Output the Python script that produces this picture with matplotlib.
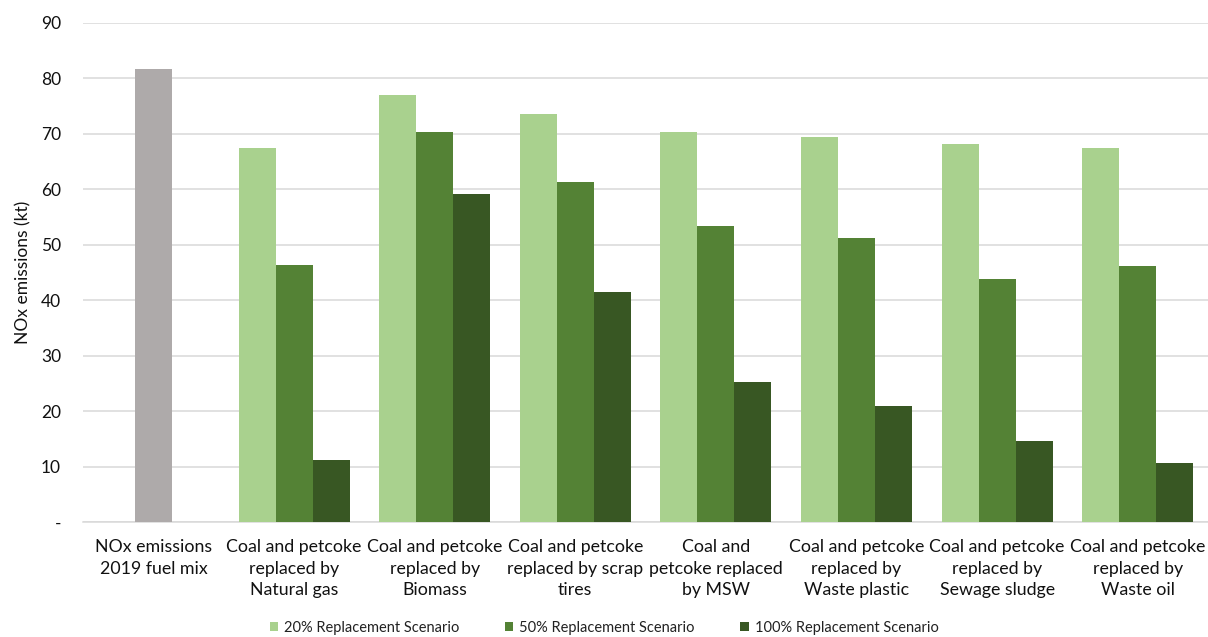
import matplotlib
matplotlib.use("Agg")
import matplotlib.pyplot as plt
import numpy as np

plt.rcParams['font.family'] = ['Lato', 'DejaVu Sans']

# NOx emissions (kt) per fuel scenario
categories = ['NOx emissions\n2019 fuel mix',
              'Coal and petcoke\nreplaced by\nNatural gas',
              'Coal and petcoke\nreplaced by\nBiomass',
              'Coal and petcoke\nreplaced by scrap\ntires',
              'Coal and\npetcoke replaced\nby MSW',
              'Coal and petcoke\nreplaced by\nWaste plastic',
              'Coal and petcoke\nreplaced by\nSewage sludge',
              'Coal and petcoke\nreplaced by\nWaste oil']
baseline_2019 = 81.7
rep_20 = [67.4, 77.1, 73.5, 70.3, 69.4, 68.1, 67.4]
rep_50 = [46.4, 70.3, 61.4, 53.3, 51.2, 43.8, 46.1]
rep_100 = [11.2, 59.2, 41.4, 25.2, 20.9, 14.6, 10.6]
series_names = ['20% Replacement Scenario', '50% Replacement Scenario',
                '100% Replacement Scenario']
colors = ['#A9D18E', '#548235', '#385723']
ytick_vals = [0, 10, 20, 30, 40, 50, 60, 70, 80, 90]

fig = plt.figure(figsize=(12.08, 6.37), dpi=100)
ax = fig.add_axes([0.0689, 0.1805, 0.9311, 0.7834])

w = 0.263
x = np.arange(1, len(categories))
ax.bar(0, baseline_2019, width=w, color='#AEAAAA', zorder=3)
for i, (vals, name, c) in enumerate(zip([rep_20, rep_50, rep_100], series_names, colors)):
    ax.bar(x + (i - 1) * w, vals, width=w, color=c, label=name, zorder=3)

ax.set_xlim(-0.5, len(categories) - 0.5)
ax.set_ylim(0, 90)
ax.set_yticks(ytick_vals)
ax.set_yticklabels(['-' if v == 0 else str(v) for v in ytick_vals])
ax.set_xticks(np.arange(len(categories)))
ax.set_xticklabels(categories, fontsize=12.8, linespacing=1.45)
ax.tick_params(axis='x', length=0, pad=12, colors='#111111')
ax.tick_params(axis='y', length=0, pad=16, labelsize=12.5, colors='#111111')
ax.grid(axis='y', color='#D9D9D9', linewidth=1.1, zorder=0)
for s in ['top', 'right', 'left']:
    ax.spines[s].set_visible(False)
ax.spines['bottom'].set_color('#D9D9D9')
ax.spines['bottom'].set_linewidth(1.1)
ax.set_ylabel('NOx emissions (kt)', fontsize=12.5, color='#111111', labelpad=7)

fig.legend(loc='lower center', bbox_to_anchor=(0.5, -0.017), ncol=3, frameon=False,
           fontsize=10.5, handlelength=0.6, handleheight=0.6, handletextpad=0.4,
           columnspacing=3.1, labelcolor='#222222')

fig.savefig('out.png', dpi=100)
plt.close(fig)
